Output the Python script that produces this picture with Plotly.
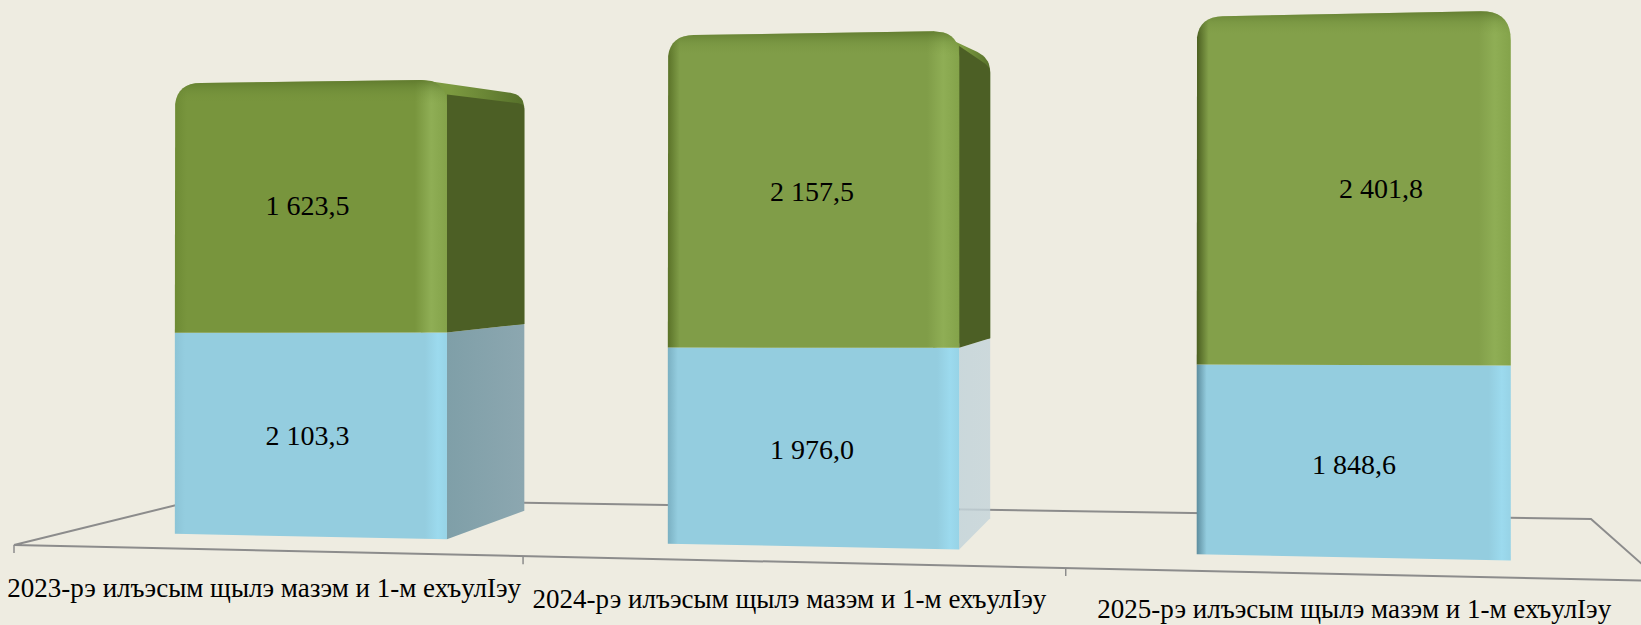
import numpy as np
import plotly.graph_objects as go

# ---- data ----
categories = ["2023-рэ илъэсым щылэ мазэм и 1-м ехъулIэу",
              "2024-рэ илъэсым щылэ мазэм и 1-м ехъулIэу",
              "2025-рэ илъэсым щылэ мазэм и 1-м ехъулIэу"]
lower_values = [2103.3, 1976.0, 1848.6]
upper_values = [1623.5, 2157.5, 2401.8]
lower_labels = ["2 103,3", "1 976,0", "1 848,6"]
upper_labels = ["1 623,5", "2 157,5", "2 401,8"]

# ---- scene / camera: the floor of the 3-D chart seen in perspective ----
W, H_PX = 1641, 625
BG = "#EEECE1"
FLOOR_IMG = [(14, 545), (1661, 581), (1591, 519), (205, 498)]
cat_edges = [0, 1.06, 2.05, 3]
BAR_FRAC = [0.556, 0.562, 0.556]
BAR_SHIFT = [0.008, 0.005, 0.003]
Z_FRONT, Z_BACK = 0.25, 0.825

def homography(src, dst):
    A, b = [], []
    for (x, z), (u, v) in zip(src, dst):
        A.append([x, z, 1, 0, 0, 0, -u*x, -u*z]); b.append(u)
        A.append([0, 0, 0, x, z, 1, -v*x, -v*z]); b.append(v)
    return np.append(np.linalg.solve(np.array(A, float), np.array(b, float)), 1).reshape(3, 3)

CAM = homography([(0, 0), (3, 0), (3, 1), (0, 1)], FLOOR_IMG)

def proj(X, Z, Y=0.0, drop=0.0):
    v = CAM @ np.array([X, Z, 1.0])
    return v[0]/v[2], v[1]/v[2] - Y/v[2] + drop

# value axis of each series (the source draws them with unequal scales)
def lower_h(v):
    return 0.137*v - 81.0
def upper_h(v):
    return 257 + 0.08427*(v-1623.5) - 5.042e-5*(v-1623.5)*(v-2157.5)

def rounded(pts, radii, n=10):
    out = []
    m = len(pts)
    for i, (p, r) in enumerate(zip(pts, radii)):
        p = np.array(p, float)
        if r <= 0:
            out.append(tuple(p)); continue
        a = np.array(pts[i-1], float); c = np.array(pts[(i+1) % m], float)
        d1 = (a-p)/np.linalg.norm(a-p); d2 = (c-p)/np.linalg.norm(c-p)
        s, e = p+d1*r, p+d2*r
        for t in np.linspace(0, 1, n):
            out.append(tuple((1-t)**2*s + 2*t*(1-t)*p + t**2*e))
    return out

fig = go.Figure()

def poly(pts, color=None, grad=None):
    xs = [p[0] for p in pts] + [pts[0][0]]
    ys = [p[1] for p in pts] + [pts[0][1]]
    kw = dict(fillgradient=grad) if grad else dict(fillcolor=color)
    fig.add_trace(go.Scatter(x=xs, y=ys, mode="lines", line=dict(width=0), fill="toself",
                             hoverinfo="skip", showlegend=False, **kw))

def hgrad(x0, x1, stops):
    span = x1 - x0
    scale = [[min(max((s if s >= 0 else span+s)/span, 0), 1), c] for s, c in stops]
    scale.sort(key=lambda q: q[0])
    scale[0][0], scale[-1][0] = 0, 1
    return dict(type="horizontal", start=x0, stop=x1, colorscale=scale)

def line(xs, ys, width=2, color="#8C8C8C"):
    fig.add_trace(go.Scatter(x=xs, y=ys, mode="lines", line=dict(width=width, color=color),
                             hoverinfo="skip", showlegend=False))

# ---- floor ----
front = [proj(0, 0), proj(3, 0)]
back = [proj(0, 1), proj(3, 1)]
line([front[1][0], front[0][0], back[0][0], back[1][0], front[1][0]],
     [front[1][1], front[0][1], back[0][1], back[1][1], front[1][1]])
for e in cat_edges[:3]:
    px, py = proj(e, 0)
    line([px, px], [py, py+8], width=1.5)

# ---- per-bar shading ----
green_edge = ["#6E8B35", "#5A7228", "#4A5E20"]
green_face = ["#78953D", "#809D48", "#83A04A"]
blue_edge = ["#8CC4D6", "#7AB0C2", "#5D8D9E"]
blue_side = [["#7F9FA8", "#8CA7B0"], ["rgba(196,212,218,0.85)", "rgba(196,212,218,0.8)"], [BG, BG]]
GREEN_SIDE = "#4C5F25"
BEVEL_A, BEVEL_B = "#7C9A40", "#56702A"
HILITE_G, HILITE_B, BLUE_FACE = "#8FAE55", "#9CDAEE", "#94CDDF"

# the source's top edges lean less than the camera gives: small per-bar corrections
left_drop = [0, 0, -3]
right_drop = [7, 8, 4]
back_drop = [7, 14, 3]
mid_back_drop = [2, 3, 0]
MID_DROP = 1.5

upper_offset = [(-1, 3), (1, 6), (30, 2)]
lower_offset = [(-1, 4), (1, 5), (3, 6)]
category_offset = [39.5, 39.5, 36.5]
tx, ty, tl = [], [], []

for i in range(3):
    cx = (cat_edges[i] + cat_edges[i+1]) / 2 + BAR_SHIFT[i]
    hw = (cat_edges[i+1] - cat_edges[i]) * BAR_FRAC[i] / 2
    xl, xr = cx-hw, cx+hw
    Yb = lower_h(lower_values[i])
    Yt = Yb + upper_h(upper_values[i])

    bl, br = proj(xl, Z_FRONT), proj(xr, Z_FRONT)
    ml, mr = proj(xl, Z_FRONT, Yb), proj(xr, Z_FRONT, Yb, MID_DROP)
    tl_, tr = proj(xl, Z_FRONT, Yt, left_drop[i]), proj(xr, Z_FRONT, Yt, right_drop[i])
    bbr, bmr, btr = (proj(xr, Z_BACK), proj(xr, Z_BACK, Yb, mid_back_drop[i]),
                     proj(xr, Z_BACK, Yt, back_drop[i]))
    has_side = bbr[0] > br[0]

    # right side faces (hidden behind the front for the bar nearest the vanishing point)
    if has_side:
        poly([br, bbr, bmr, mr], grad=hgrad(br[0], bbr[0], [(0, blue_side[i][0]), (-1, blue_side[i][1])]))
        # the silhouette runs straight from the front's top edge to the back corner
        t = 26 / (tr[0] - tl_[0])
        start = (tr[0] - 26, tr[1] + t*(tl_[1]-tr[1]))
        poly(rounded([(start[0], mr[1]), start, btr, bmr], [0, 0, 14, 0]),
             grad=hgrad(start[0], btr[0], [(0, BEVEL_A), (30, BEVEL_A), (-1, BEVEL_B)]))
        top_in = (tr[0], tr[1]+15)
        btr_in = (btr[0], btr[1]+9)
        poly(rounded([mr, top_in, btr_in, bmr], [0, 0, 6, 0]), color=GREEN_SIDE)

    # front faces
    x0, x1 = bl[0], br[0]
    poly([bl, br, mr, ml], grad=hgrad(x0, x1, [(0, blue_edge[i]), (10, BLUE_FACE), (-22, BLUE_FACE),
                                               (-9, HILITE_B), (-1, "#97D3E6")]))
    rr = 26
    top_r = 26 if has_side else 30
    outline = rounded([ml, tl_, tr, mr], [0, rr, top_r, 0])
    poly(outline, grad=hgrad(x0, x1, [(0, green_edge[i]), (12, green_face[i]), (-32, green_face[i]),
                                      (-16, HILITE_G), (-1, "#84A34A")]))
    top = min(tl_[1], tr[1])
    band = rounded([(ml[0], tl_[1]+28), tl_, tr, (mr[0], tr[1]+28)], [0, rr, top_r, 0])
    poly(band, grad=dict(type="vertical", start=top, stop=top+24,
                         colorscale=[[0, "rgba(85,110,38,0.7)"], [0.5, "rgba(100,130,50,0.25)"],
                                     [1, "rgba(120,150,60,0)"]]))

    # value labels
    gx, gy = proj(cx, Z_FRONT, (Yb+Yt)/2)
    tx.append(gx+upper_offset[i][0]); ty.append(gy+upper_offset[i][1]); tl.append(upper_labels[i])
    bx, by = proj(cx, Z_FRONT, Yb/2)
    tx.append(bx+lower_offset[i][0]); ty.append(by+lower_offset[i][1]); tl.append(lower_labels[i])

fig.add_trace(go.Scatter(x=tx, y=ty, text=tl, mode="text", textposition="middle center",
                         textfont=dict(family="Liberation Serif", size=28, color="#000000"),
                         hoverinfo="skip", showlegend=False))

cxs, cys = [], []
for i in range(3):
    px, py = proj((cat_edges[i]+cat_edges[i+1])/2, 0)
    cxs.append(px+4 if i < 2 else px+1); cys.append(py+category_offset[i])
fig.add_trace(go.Scatter(x=cxs, y=cys, text=categories, mode="text", textposition="middle center",
                         textfont=dict(family="Liberation Serif", size=27, color="#000000"),
                         hoverinfo="skip", showlegend=False, cliponaxis=False))

fig.update_layout(width=W, height=H_PX, margin=dict(l=0, r=0, t=0, b=0),
                  paper_bgcolor=BG, plot_bgcolor=BG, showlegend=False,
                  xaxis=dict(range=[0, W], visible=False, fixedrange=True),
                  yaxis=dict(range=[H_PX, 0], visible=False, fixedrange=True))
fig.write_html("out.html", config={"displayModeBar": False},
               post_script="document.body.style.margin='0';document.body.style.overflow='hidden';document.body.style.background='#EEECE1';")
